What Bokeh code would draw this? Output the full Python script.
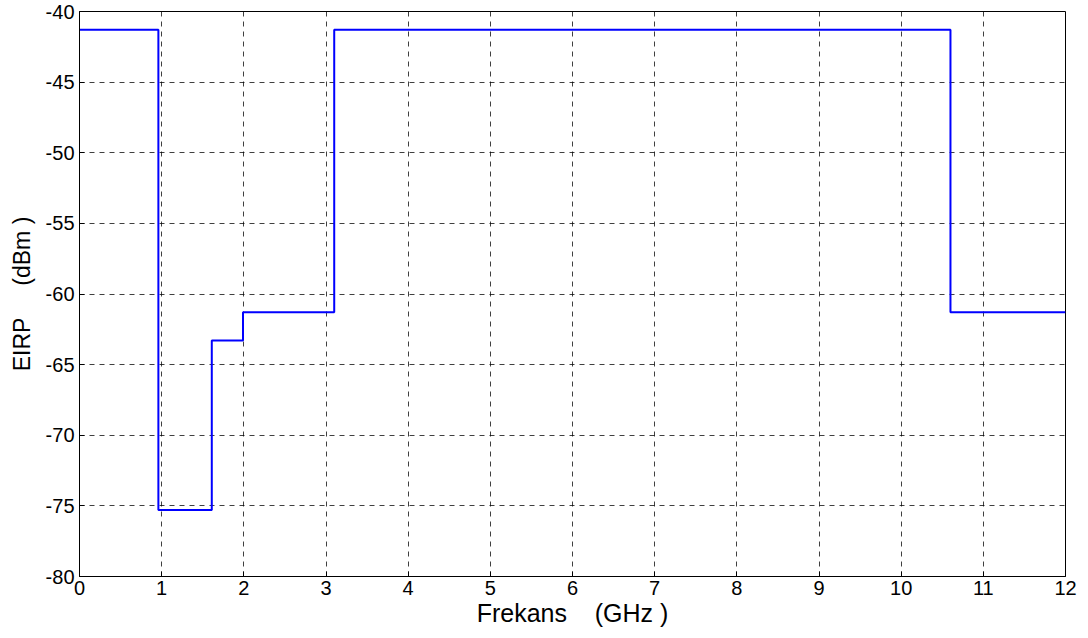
from bokeh.plotting import figure
from bokeh.models import FixedTicker, Range1d, PrintfTickFormatter
from bokeh.embed import file_html
from bokeh.resources import INLINE

# FCC indoor UWB emission mask
band_edges = [0.0, 0.96, 1.61, 1.99, 3.1, 10.6, 12.0]   # GHz
eirp_levels = [-41.3, -75.3, -63.3, -61.3, -41.3, -61.3]  # dBm, one per band
x_ticks = [0, 1, 2, 3, 4, 5, 6, 7, 8, 9, 10, 11, 12]
y_ticks = [-80, -75, -70, -65, -60, -55, -50, -45, -40]

FONT = "Liberation Sans"
NB = "\u00a0"

p = figure(width=1088, height=638, output_backend="svg", toolbar_location=None,
           x_range=Range1d(0, 12), y_range=Range1d(-80, -40),
           min_border_left=79, min_border_right=23, min_border_top=11, min_border_bottom=62)
p.background_fill_color = "white"
p.border_fill_color = "white"
p.outline_line_color = "black"
p.outline_line_width = 1

p.step(band_edges, eirp_levels + [eirp_levels[-1]], mode="after",
       line_color="#0000ff", line_width=2)

for ax, ticks in ((p.xaxis, x_ticks), (p.yaxis, y_ticks)):
    ax.ticker = FixedTicker(ticks=ticks)
    ax.formatter = PrintfTickFormatter(format="%d")
    ax.minor_tick_line_color = None
    ax.major_tick_in = 5
    ax.major_tick_out = 0
    ax.axis_line_color = "black"
    ax.major_tick_line_color = "black"
    ax.major_label_text_font = FONT
    ax.major_label_text_font_size = "20px"
    ax.major_label_text_color = "black"
    ax.axis_label_text_font = FONT
    ax.axis_label_text_font_style = "normal"
    ax.axis_label_text_color = "black"

p.xaxis.axis_label_text_font_size = "25px"
p.yaxis.axis_label_text_font_size = "23px"
p.xaxis.major_label_standoff = 4
p.yaxis.major_label_standoff = 5
p.xaxis.axis_label = "Frekans" + NB * 4 + "(GHz )"
p.yaxis.axis_label = "EIRP" + NB * 5 + "(dBm )"
p.xaxis.axis_label_standoff = 1
p.yaxis.axis_label_standoff = 8

for g in (p.xgrid, p.ygrid):
    g.grid_line_color = "black"
    g.grid_line_alpha = 0.75
    g.grid_line_dash = "5 5"
    g.grid_line_width = 1

open("out.html", "w").write(file_html(p, INLINE))
